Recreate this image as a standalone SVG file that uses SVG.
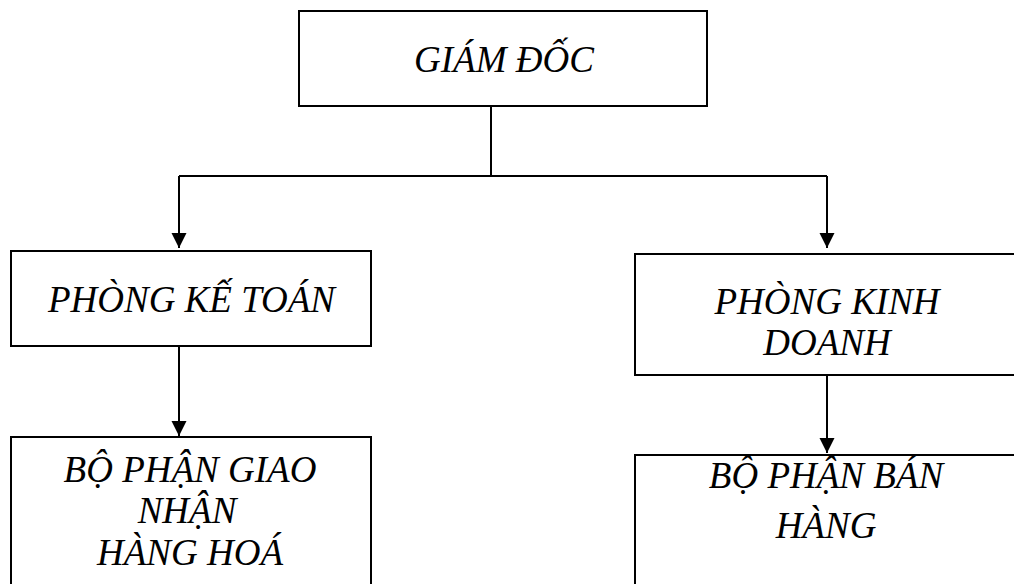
<svg xmlns="http://www.w3.org/2000/svg" width="1014" height="584" viewBox="0 0 1014 584">
  <style>
    .box { fill: #ffffff; stroke: #000000; stroke-width: 2; }
    .link { fill: none; stroke: #000000; stroke-width: 2; }
    .lbl { font-family: "Liberation Serif", "Times New Roman", serif; font-style: italic; font-size: 37px; fill: #000000; text-anchor: middle; }
  </style>
  <defs>
    <!-- solid triangular arrowhead shared by all connectors -->
    <marker id="arrow" markerUnits="userSpaceOnUse" markerWidth="16" markerHeight="16" refX="15" refY="8" orient="auto">
      <path d="M0,0.5 L15,8 L0,15.5 Z" fill="#000000"/>
    </marker>
  </defs>
  <rect width="1014" height="584" fill="#ffffff"/>

  <g id="connectors">
    <path class="link" d="M491,106 V176"/>
    <path class="link" d="M179,176 H827"/>
    <path class="link" d="M179,176 V248" marker-end="url(#arrow)"/>
    <path class="link" d="M827,176 V248" marker-end="url(#arrow)"/>
    <path class="link" d="M179,339 V436" marker-end="url(#arrow)"/>
    <path class="link" d="M827,375 V453" marker-end="url(#arrow)"/>
  </g>

  <g id="giam-doc">
    <rect class="box" x="299" y="11" width="408" height="95"/>
    <text class="lbl" x="504" y="72">GIÁM ĐỐC</text>
  </g>

  <g id="phong-ke-toan">
    <rect class="box" x="11" y="251" width="360" height="95"/>
    <text class="lbl" x="191.5" y="312">PHÒNG KẾ TOÁN</text>
  </g>

  <g id="phong-kinh-doanh">
    <rect class="box" x="635" y="254" width="400" height="121"/>
    <text class="lbl" x="827" y="314">PHÒNG KINH</text>
    <text class="lbl" x="827" y="355">DOANH</text>
  </g>

  <g id="bo-phan-giao-nhan">
    <rect class="box" x="11" y="437" width="360" height="170"/>
    <text class="lbl" x="190" y="482">BỘ PHẬN GIAO</text>
    <text class="lbl" x="187" y="523">NHẬN</text>
    <text class="lbl" x="190" y="565">HÀNG HOÁ</text>
  </g>

  <g id="bo-phan-ban-hang">
    <rect class="box" x="635" y="455" width="400" height="150"/>
    <text class="lbl" x="826" y="488">BỘ PHẬN BÁN</text>
    <text class="lbl" x="826" y="538">HÀNG</text>
  </g>
</svg>
